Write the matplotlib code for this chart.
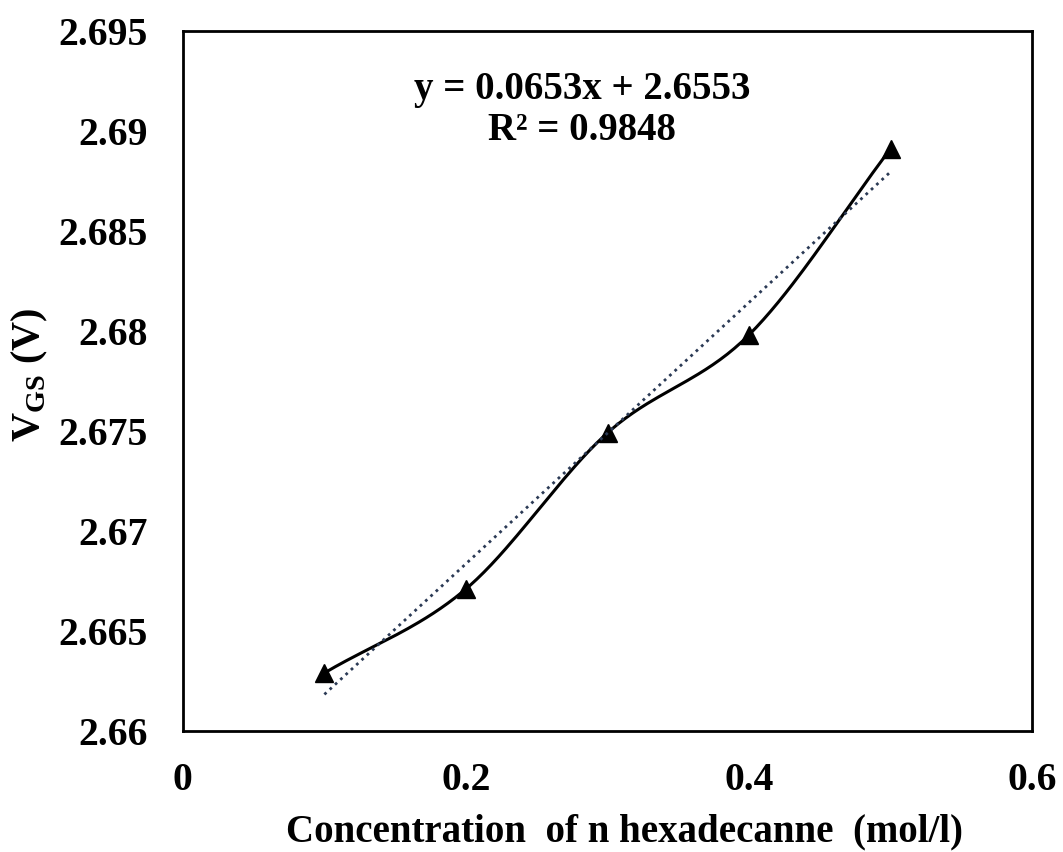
import numpy as np
import matplotlib.pyplot as plt

plt.rcParams['font.family'] = 'Liberation Serif'
plt.rcParams['font.weight'] = 'bold'
plt.rcParams['mathtext.fontset'] = 'custom'
plt.rcParams['mathtext.rm'] = 'Liberation Serif:bold'

conc = [0.1, 0.2, 0.3, 0.4, 0.5]
vgs = [2.6629, 2.6671, 2.6749, 2.6798, 2.6891]
slope = 0.0653
intercept = 2.6553
r2 = 0.9848

xmin, xmax = 0, 0.6
ymin, ymax = 2.66, 2.695


def smooth(xs, ys, n=40):
    # catmull-rom in screen-like units, like excel's smoothed line
    sx = 849 / (xmax - xmin)
    sy = 700 / (ymax - ymin)
    p = np.column_stack([np.array(xs) * sx, np.array(ys) * sy])
    p = np.vstack([2 * p[0] - p[1], p, 2 * p[-1] - p[-2]])
    out = []
    for i in range(1, len(p) - 2):
        p0, p1, p2, p3 = p[i - 1], p[i], p[i + 1], p[i + 2]
        t = np.linspace(0, 1, n)[:, None]
        seg = 0.5 * ((2 * p1) + (-p0 + p2) * t + (2 * p0 - 5 * p1 + 4 * p2 - p3) * t ** 2
                     + (-p0 + 3 * p1 - 3 * p2 + p3) * t ** 3)
        out.append(seg)
    out = np.vstack(out)
    return out[:, 0] / sx, out[:, 1] / sy


fig = plt.figure(figsize=(10.63, 8.52), dpi=100)
ax = fig.add_axes([0.172, 0.142, 0.799, 0.822])

sxs, sys_ = smooth(conc, vgs)
ax.plot(sxs, sys_, color='black', linewidth=2.2)
ax.plot(conc, vgs, linestyle='none', marker='^', color='black', markersize=13)

xt = np.array([conc[0], conc[-1]])
ax.plot(xt, slope * xt + intercept, linestyle=(0, (1, 1.6)), color='#2b3a55', linewidth=2)

ax.text(0.47, 0.887, f"y = {slope}x + {intercept}\nR² = {r2}", transform=ax.transAxes,
        ha='center', va='center', fontsize=28, fontweight='bold', linespacing=1.15)

ax.set_xlim(xmin, xmax)
ax.set_ylim(ymin, ymax)
ax.set_xticks([0, 0.2, 0.4, 0.6])
ax.set_xticklabels(['0', '0.2', '0.4', '0.6'])
ax.set_yticks([2.66, 2.665, 2.67, 2.675, 2.68, 2.685, 2.69, 2.695])
ax.set_yticklabels(['2.66', '2.665', '2.67', '2.675', '2.68', '2.685', '2.69', '2.695'])
ax.tick_params(length=0, labelsize=28.5, pad=25)
ax.tick_params(axis='x', pad=22)
for s in ax.spines.values():
    s.set_linewidth(2)

fig.text(625 / 1063, 1 - 832 / 852, 'Concentration  of n hexadecanne  (mol/l)',
         ha='center', va='center', fontsize=28, fontweight='bold')
fig.text(30 / 1063, 1 - 375 / 852, 'V$_{\\mathregular{GS}}$ (V)', rotation=90,
         ha='center', va='center', fontsize=29, fontweight='bold')

fig.savefig('out.png', dpi=100)
